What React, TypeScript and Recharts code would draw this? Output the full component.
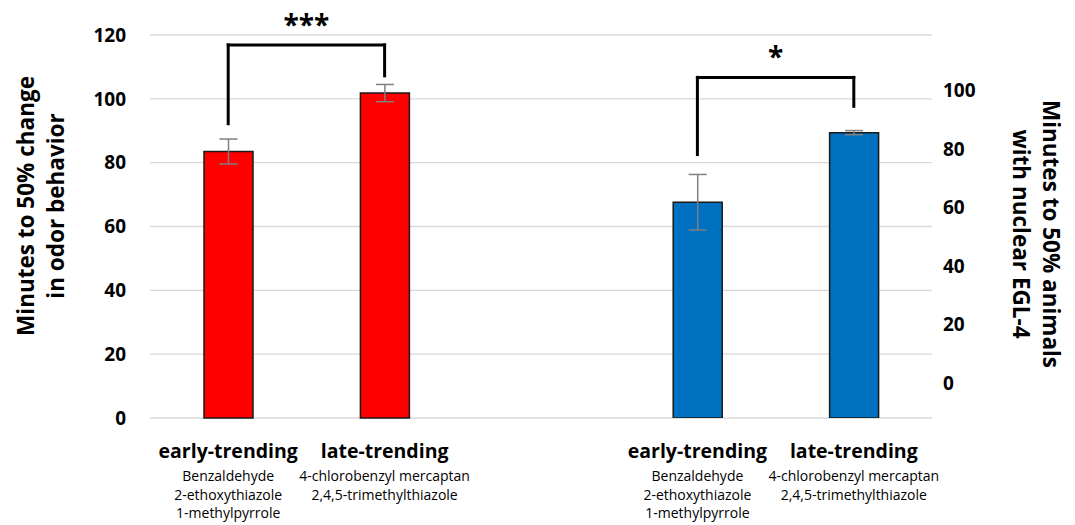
import React from 'react';
import { ComposedChart, Bar, XAxis, YAxis, CartesianGrid, ErrorBar, ReferenceLine } from 'recharts';

// categories (the middle one is an empty spacer between the two panels)
const categories = ['early1', 'late1', 'gap', 'early2', 'late2'];
const groupLabels = ['early-trending', 'late-trending', '', 'early-trending', 'late-trending'];
const odorLabels = [
  ['Benzaldehyde', '2-ethoxythiazole', '1-methylpyrrole'],
  ['4-chlorobenzyl mercaptan', '2,4,5-trimethylthiazole'],
  [],
  ['Benzaldehyde', '2-ethoxythiazole', '1-methylpyrrole'],
  ['4-chlorobenzyl mercaptan', '2,4,5-trimethylthiazole'],
];

// left axis: minutes to 50% change in odor behavior
const behaviorMinutes = [83.5, 101.8, null, null, null];
const behaviorErr = [3.9, 2.7, null, null, null];
// right axis: minutes to 50% animals with nuclear EGL-4
const nuclearMinutes = [null, null, null, 61.8, 85.6];
const nuclearErr = [null, null, null, 9.5, 0.7];

const leftDomain = [0, 120];
const rightDomain = [-12, 119];
const leftTicks = [0, 20, 40, 60, 80, 100, 120];
const rightTicks = [0, 20, 40, 60, 80, 100];

// significance brackets (heights in units of their own axis)
const behaviorBracket = { from: 'early1', to: 'late1', leftEnd: 92.2, top: 116.9, rightEnd: 107.2, stars: '***' };
const nuclearBracket = { from: 'early2', to: 'late2', leftEnd: 78.1, top: 104.5, rightEnd: 94.6, stars: '*' };

// right-axis bars rise from the bottom of the axis (like Excel), so give them a range
const data = categories.map((c, i) => ({
  cat: c,
  behavior: behaviorMinutes[i],
  behaviorErr: behaviorErr[i],
  nuclear: nuclearMinutes[i] == null ? null : [rightDomain[0], nuclearMinutes[i]],
  nuclearErr: nuclearErr[i],
}));

const FONT = '"Open Sans", sans-serif';

const CategoryTick = (props: any) => {
  const { x, y, index } = props;
  const idx = index ?? categories.indexOf(props.payload?.value);
  return (
    <g>
      <text x={x} y={y + 40} textAnchor="middle" fontFamily={FONT} fontWeight={700} fontSize={19.5} fill="#000">
        {groupLabels[idx]}
      </text>
      {odorLabels[idx].map((l, k) => (
        <text key={k} x={x} y={y + 63 + k * 18.5} textAnchor="middle" fontFamily={FONT} fontSize={14} fill="#000">
          {l}
        </text>
      ))}
    </g>
  );
};

const AxisTitle = ({ cx, cy, angle, lines, gap }: { cx: number; cy: number; angle: number; lines: string[]; gap: number }) => (
  <text
    transform={`translate(${cx},${cy}) rotate(${angle})`}
    textAnchor="middle"
    dominantBaseline="central"
    fontFamily={FONT}
    fontWeight={700}
    fontSize={22.5}
    fill="#000"
  >
    {lines.map((l, i) => (
      <tspan key={i} x={0} y={(i - (lines.length - 1) / 2) * gap}>
        {l}
      </tspan>
    ))}
  </text>
);

const bracketLines = (b: typeof behaviorBracket, xAxisId: string, yAxisId: string) => {
  const common = { xAxisId, yAxisId, stroke: '#000', strokeWidth: 3, strokeLinecap: 'square' as const, ifOverflow: 'visible' as const };
  return [
    <ReferenceLine key={b.from + 'l'} {...common} segment={[{ x: b.from, y: b.leftEnd }, { x: b.from, y: b.top }]} />,
    <ReferenceLine
      key={b.from + 't'}
      {...common}
      segment={[{ x: b.from, y: b.top }, { x: b.to, y: b.top }]}
      label={{ value: b.stars, position: 'top', offset: 10, fontFamily: FONT, fontWeight: 700, fontSize: 28, fill: '#000' }}
    />,
    <ReferenceLine key={b.from + 'r'} {...common} segment={[{ x: b.to, y: b.top }, { x: b.to, y: b.rightEnd }]} />,
  ];
};

export default function App() {
  return (
    <div style={{ position: 'absolute', left: 0, top: 0, background: '#fff' }}>
      <ComposedChart width={1075} height={525} data={data} margin={{ top: 35, right: 0, bottom: 0, left: 0 }}>
        <CartesianGrid yAxisId="left" vertical={false} stroke="#d9d9d9" strokeWidth={1.3} />
        <XAxis
          xAxisId="a"
          dataKey="cat"
          height={107}
          axisLine={false}
          tickLine={false}
          tickSize={0}
          tickMargin={0}
          interval={0}
          tick={<CategoryTick />}
        />
        <XAxis xAxisId="b" dataKey="cat" hide />
        <YAxis
          yAxisId="left"
          orientation="left"
          width={150}
          domain={leftDomain}
          ticks={leftTicks}
          axisLine={false}
          tickLine={false}
          tickSize={0}
          tickMargin={24}
          tick={{ fontFamily: FONT, fontWeight: 700, fontSize: 19, fill: '#000' }}
          label={{
            content: () => (
              <AxisTitle cx={40} cy={206} angle={-90} gap={30} lines={['Minutes to 50% change', 'in odor behavior']} />
            ),
          }}
        />
        <YAxis
          yAxisId="right"
          orientation="right"
          width={143}
          domain={rightDomain}
          ticks={rightTicks}
          allowDataOverflow
          axisLine={false}
          tickLine={false}
          tickSize={0}
          tickMargin={11}
          tick={{ fontFamily: FONT, fontWeight: 700, fontSize: 19, fill: '#000', textAnchor: 'start' }}
          label={{
            content: () => (
              <AxisTitle cx={1037} cy={234} angle={90} gap={30} lines={['Minutes to 50% animals', 'with nuclear EGL-4']} />
            ),
          }}
        />
        <Bar
          xAxisId="a"
          yAxisId="left"
          dataKey="behavior"
          barSize={49}
          fill="#ff0000"
          stroke="#1a1a1a"
          strokeWidth={1.5}
          isAnimationActive={false}
        >
          <ErrorBar dataKey="behaviorErr" width={9} stroke="#7f7f7f" strokeWidth={1.5} direction="y" />
        </Bar>
        <Bar
          xAxisId="b"
          yAxisId="right"
          dataKey="nuclear"
          barSize={49}
          fill="#0070c0"
          stroke="#1a1a1a"
          strokeWidth={1.5}
          isAnimationActive={false}
        >
          <ErrorBar dataKey="nuclearErr" width={9} stroke="#7f7f7f" strokeWidth={1.5} direction="y" />
        </Bar>
        {bracketLines(behaviorBracket, 'a', 'left')}
        {bracketLines(nuclearBracket, 'b', 'right')}
      </ComposedChart>
    </div>
  );
}
